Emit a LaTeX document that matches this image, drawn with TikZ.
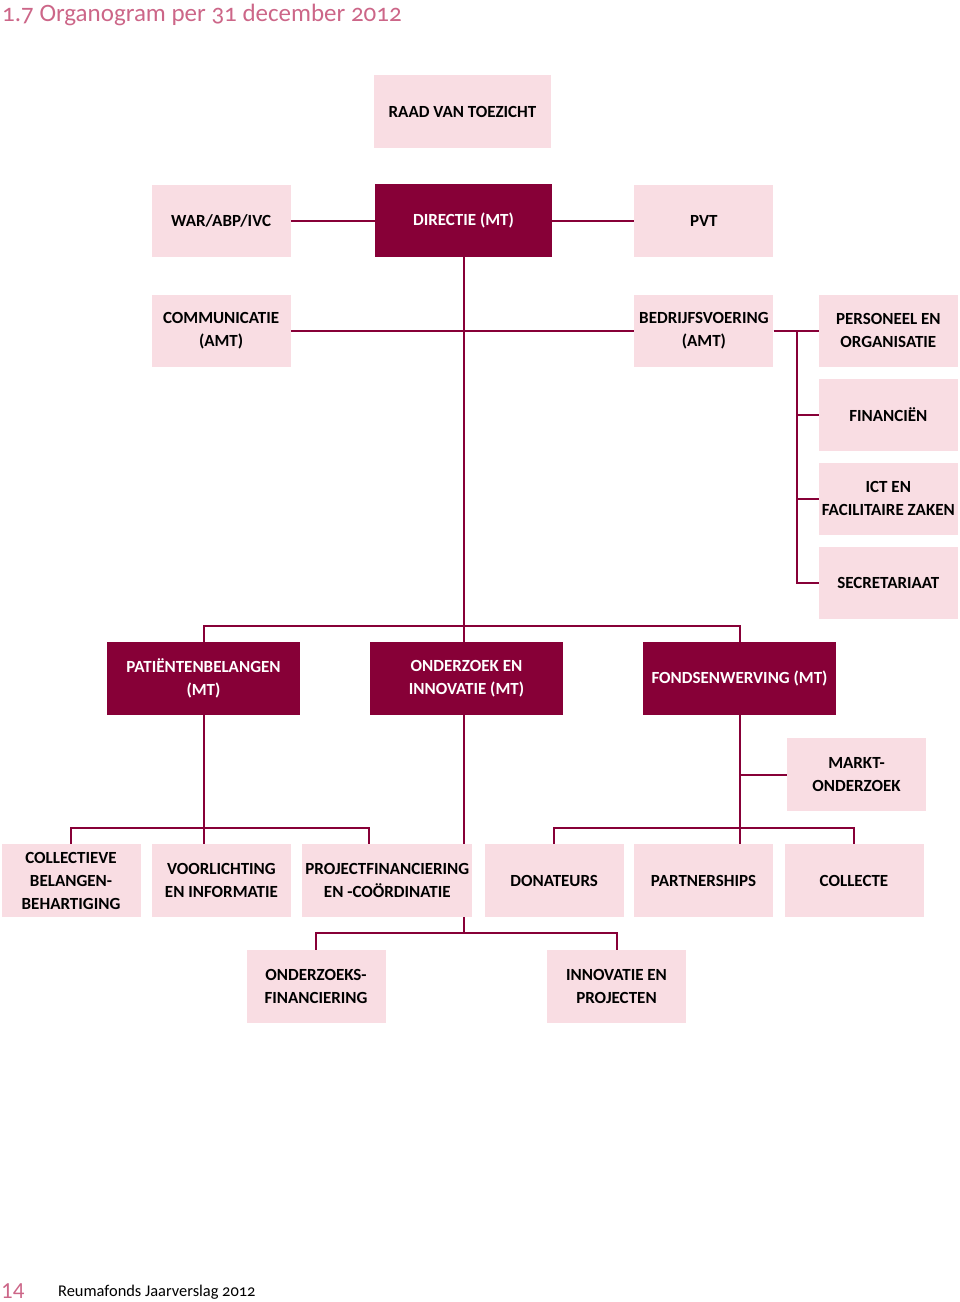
\documentclass[tikz,border=0pt]{standalone}
\usepackage{fontspec}
\setmainfont{Carlito}
\usepackage{xcolor}
\usepackage{tikz}
\usetikzlibrary{positioning}
\definecolor{mtred}{HTML}{870037}
\definecolor{amtpink}{HTML}{F9DDE3}
\definecolor{titlepink}{HTML}{CC6688}

\begin{document}
\begin{tikzpicture}[
        x=1pt, y=1pt,
        unit/.style={rectangle, fill=amtpink, text=black, align=center, inner sep=0pt,
                     font=\bfseries\fontsize{17}{23}\selectfont, minimum width=139pt, minimum height=72pt},
        mt/.style={unit, fill=mtred, text=white, minimum width=193pt, minimum height=73pt},
        line/.style={draw, mtred, line width=2pt}
      ]
        \useasboundingbox (0,0) rectangle (960,-1302);

        % Title and footer
        \node [anchor=base west, inner sep=0pt, text=titlepink,
               font=\fontsize{25}{30}\selectfont\addfontfeatures{Numbers=OldStyle}] (title) at (2,-21) {1.7 Organogram per 31 december 2012};
        \node [anchor=base west, inner sep=0pt, text=titlepink, font=\fontsize{23}{24}\selectfont] (page) at (1,-1298) {14};
        \node [anchor=base west, inner sep=0pt, font=\fontsize{16.4}{18}\selectfont\addfontfeatures{Numbers=OldStyle}] (footer) at (58,-1296) {Reumafonds Jaarverslag 2012};

        % Board and management
        \node [unit, minimum width=177pt, minimum height=73pt] (raad) at (462.5,-111.5) {RAAD VAN TOEZICHT};
        \node [mt, minimum width=177pt] (directie) at (463.5,-220.5) {DIRECTIE (MT)};
        \node [unit, left=84pt of directie] (war) {WAR/ABP/IVC};
        \node [unit, right=82pt of directie] (pvt) {PVT};

        % Staff
        \node [unit, below=38pt of war] (comm) {COMMUNICATIE\\(AMT)};
        \node [unit, below=38pt of pvt] (bedrijf) {BEDRIJFSVOERING\\(AMT)};
        \node [unit, right=45pt of bedrijf] (personeel) {PERSONEEL EN\\ORGANISATIE};
        \node [unit, below=11.5pt of personeel] (fin) {FINANCIËN};
        \node [unit, below=11.5pt of fin] (ict) {ICT EN\\FACILITAIRE ZAKEN};
        \node [unit, below=11.5pt of ict] (secr) {SECRETARIAAT};

        % Departments
        \node [mt] (patient) at (203.5,-678.5) {PATIËNTENBELANGEN\\(MT)};
        \node [mt] (onderzoek) at (466.5,-678.5) {ONDERZOEK EN\\INNOVATIE (MT)};
        \node [mt] (fonds) at (739.5,-678.5) {FONDSENWERVING (MT)};
        \node [unit, minimum height=73pt] (markt) at (856.5,-774.5) {MARKT-\\ONDERZOEK};

        % Units
        \node [unit, minimum height=73pt] (coll) at (71,-880.5) {COLLECTIEVE\\BELANGEN-\\BEHARTIGING};
        \node [unit, minimum height=73pt, right=11pt of coll] (voor) {VOORLICHTING\\EN INFORMATIE};
        \node [unit, minimum height=73pt, minimum width=170pt, right=11pt of voor] (proj) {PROJECTFINANCIERING\\EN -COÖRDINATIE};
        \node [unit, minimum height=73pt, right=12pt of proj] (don) {DONATEURS};
        \node [unit, minimum height=73pt, right=10pt of don] (part) {PARTNERSHIPS};
        \node [unit, minimum height=73pt, right=11pt of part] (collecte) {COLLECTE};
        \node [unit, minimum height=73pt] (ozfin) at (316,-986.5) {ONDERZOEKS-\\FINANCIERING};
        \node [unit, minimum height=73pt] (innov) at (616.5,-986.5) {INNOVATIE EN\\PROJECTEN};

        % Lines
        \draw [line] (war) -- (directie);
        \draw [line] (directie) -- (pvt);
        \draw [line] (comm) -- (bedrijf);
        \draw [line] (bedrijf) -- (personeel);
        \coordinate [right=23pt of bedrijf.east] (bvsplit);
        \draw [line] (bvsplit) |- (fin.west);
        \draw [line] (bvsplit) |- (ict.west);
        \draw [line] (bvsplit) |- (secr.west);
        \draw [line] (directie.south) -- (directie.south |- onderzoek.north);
        \draw [line] (patient.north) -- ++(0,16) -| (fonds.north);
        \draw [line] (patient.south) -- (patient.south |- voor.north);
        \draw [line] (coll.north) -- ++(0,16) -| ([xshift=-18pt]proj.north);
        \draw [line] (directie.south |- onderzoek.south) -- (directie.south |- proj.north);
        \draw [line] (directie.south |- proj.south) -- ++(0,-16);
        \draw [line] (ozfin.north) -- ++(0,17) -| (innov.north);
        \draw [line] (fonds.south) -- (fonds.south |- part.north);
        \draw [line] (fonds.south |- markt.west) -- (markt.west);
        \draw [line] (don.north) -- ++(0,16) -| (collecte.north);
      \end{tikzpicture}
\end{document}
